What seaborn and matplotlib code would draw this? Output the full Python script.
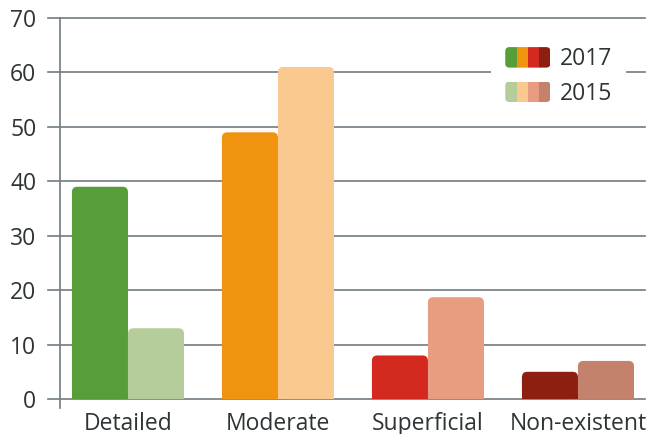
import pandas as pd
import seaborn as sns
import matplotlib.pyplot as plt
from matplotlib.patches import FancyBboxPatch, Rectangle
from matplotlib.legend_handler import HandlerBase

categories = ["Detailed", "Moderate", "Superficial", "Non-existent"]
years = ["2017", "2015"]
values_2017 = [39, 49, 8, 5]
values_2015 = [13, 61, 18.7, 7]
colors_2017 = ["#559e3a", "#f0930e", "#d4291f", "#8d1f10"]
colors_2015 = ["#b5cd9a", "#fac990", "#e89c80", "#c4826c"]

df = pd.DataFrame({
    "category": categories * 2,
    "year": [years[0]] * 4 + [years[1]] * 4,
    "value": values_2017 + values_2015,
})

plt.rcParams["font.family"] = ["Open Sans", "DejaVu Sans"]
text_col = "#2e3436"
grid_col = "#6f7b82"
fs = 16.5


class SwatchHandler(HandlerBase):
    # four colour stripes inside one rounded box
    def create_artists(self, legend, orig_handle, xdescent, ydescent,
                       width, height, fontsize, trans):
        cols = orig_handle
        x0, y0 = -xdescent, -ydescent
        box = FancyBboxPatch((x0, y0), width, height,
                             boxstyle="round,pad=0,rounding_size=3",
                             facecolor="none", edgecolor="none", transform=trans)
        arts = []
        n = len(cols)
        for i, c in enumerate(cols):
            r = Rectangle((x0 + i * width / n, y0), width / n, height,
                          facecolor=c, edgecolor="none", transform=trans)
            r.set_clip_path(box)
            arts.append(r)
        return arts


fig = plt.figure(figsize=(6.52, 4.34), dpi=100)
ax = fig.add_axes([60 / 652, 1 - 408 / 434, 585 / 652, 390 / 434])

sns.barplot(data=df, x="category", y="value", hue="year", order=categories,
            hue_order=years, width=0.747, gap=0, ax=ax, legend=False,
            palette=["#888888", "#cccccc"])

ax.set_ylim(-1.65, 70)
ax.set_xlim(-0.453, 3.447)

# per-bar colours and rounded tops
colors = colors_2017 + colors_2015
bars = list(ax.patches)
rx = 0.035
ry = 1.0
for bar, c in zip(bars, colors):
    x = bar.get_x()
    w, h = bar.get_width(), bar.get_height()
    bar.set_visible(False)
    ax.add_patch(Rectangle((x, 0), w, h - ry, facecolor=c, edgecolor="none", zorder=3))
    ax.add_patch(FancyBboxPatch((x, 0), w, h,
                                boxstyle=f"round,pad=0,rounding_size={rx}",
                                mutation_aspect=ry / rx,
                                facecolor=c, edgecolor="none", zorder=3))

ax.set_yticks(range(0, 71, 10))
for yv in range(0, 71, 10):
    ax.axhline(yv, color=grid_col, lw=1.2, zorder=1, xmin=-12 / 585, xmax=1, clip_on=False)

for s in ["top", "right", "bottom"]:
    ax.spines[s].set_visible(False)
ax.spines["left"].set_color(grid_col)
ax.spines["left"].set_linewidth(1.2)
ax.spines["left"].set_bounds(-1.65, 70)

ax.tick_params(axis="y", length=0, pad=17, labelsize=fs, labelcolor=text_col)
ax.tick_params(axis="x", length=0, pad=3, labelsize=fs, labelcolor=text_col)
ax.set_xlabel("")
ax.set_ylabel("")
ax.set_facecolor("white")

# legend with four-colour swatches
leg = ax.legend([tuple(colors_2017), tuple(colors_2015)], years,
                handler_map={tuple: SwatchHandler()},
                loc="upper left", bbox_to_anchor=(0.718, 0.99),
                handlelength=1.97, handleheight=1.0, handletextpad=0.4, labelspacing=0.45,
                fontsize=fs, frameon=True, framealpha=1, facecolor="white",
                edgecolor="none", borderpad=0.6)
for t in leg.get_texts():
    t.set_color(text_col)
leg.set_zorder(5)

fig.savefig("out.png", dpi=100)
